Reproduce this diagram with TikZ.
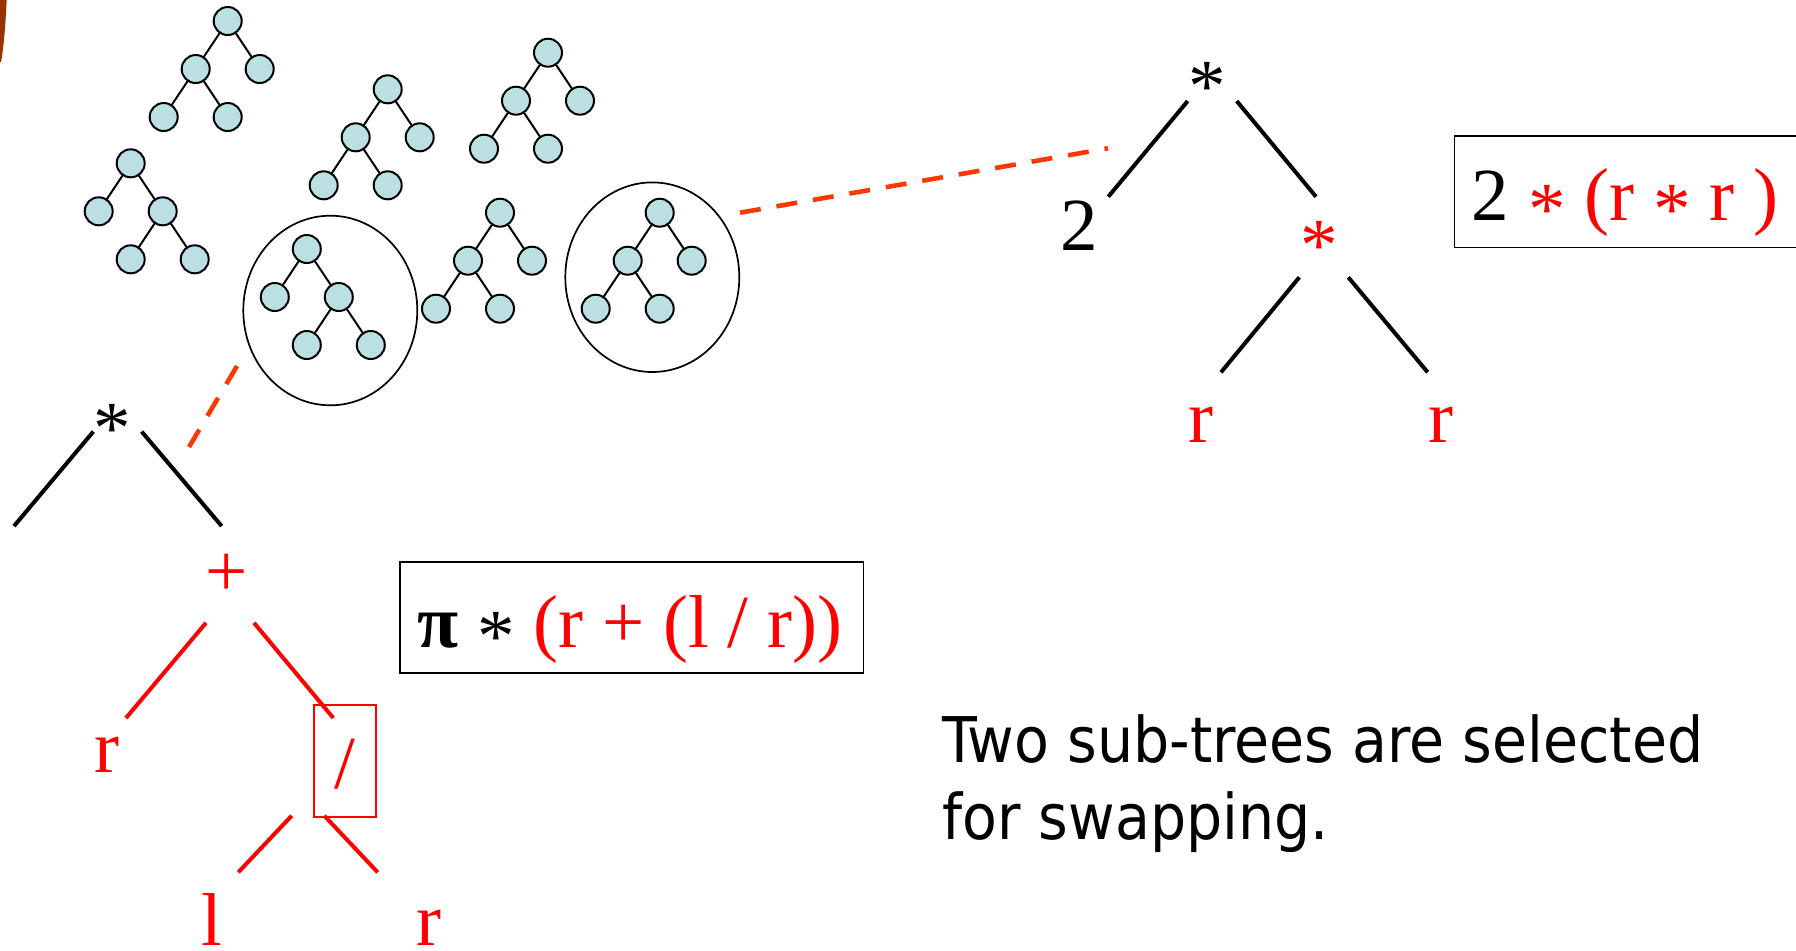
\documentclass[tikz,border=0pt]{standalone}
\usepackage{fontspec}
\setmainfont{Liberation Serif}
\newfontfamily\capfont[FakeStretch=0.905]{DejaVu Sans}
\usetikzlibrary{shapes.geometric}
\definecolor{nodefill}{RGB}{187,224,227}
\definecolor{dashcol}{RGB}{255,55,0}
\definecolor{brownc}{RGB}{153,51,0}
\newcommand\lowast{\raisebox{-0.19em}{*}}
\tikzset{
  leaf/.style={circle, draw=black, fill=nodefill, line width=1pt, minimum size=14pt, inner sep=0pt},
  twig/.style={line width=1pt},
  treeA/.pic={
    \coordinate (-o) at (0,0);
    \draw[twig] (0,0) -- (-32,48) -- (-64,96) (-32,48) -- (0,96) (0,0) -- (32,48);
    \node[leaf] (-r) at (0,0) {};
    \node[leaf] (-a) at (-32,48) {};
    \node[leaf] (-b) at (32,48) {};
    \node[leaf] (-c) at (-64,96) {};
    \node[leaf] (-d) at (0,96) {};
  },
  treeB/.pic={
    \coordinate (-o) at (0,0);
    \draw[twig] (0,0) -- (32,48) -- (64,96) (32,48) -- (0,96) (0,0) -- (-32,48);
    \node[leaf] (-r) at (0,0) {};
    \node[leaf] (-a) at (-32,48) {};
    \node[leaf] (-b) at (32,48) {};
    \node[leaf] (-c) at (0,96) {};
    \node[leaf] (-d) at (64,96) {};
  },
  lbl/.style={inner sep=0pt, anchor=base, font=\fontsize{37.5}{45}\selectfont},
  branch/.style={line width=2pt},
  swapline/.style={draw=dashcol, line width=2.3pt, dash pattern=on 10.5pt off 8pt},
  ring/.style={draw, ellipse, line width=0.85pt, inner sep=0pt},
  framebox/.style={draw, line width=0.8pt, inner sep=0pt},
  capstyle/.style={inner sep=0pt, anchor=base west, font=\capfont\fontsize{31.5}{38}\selectfont},
}
\begin{document}
\begin{tikzpicture}[x=0.5pt,y=-0.5pt]
\useasboundingbox (0,0) rectangle (1796,950);
\fill[white] (0,0) rectangle (1796,950);

% brown corner stroke
\fill[brownc] (0,0) -- (6.7,0) .. controls (5.5,25) and (3.5,50) .. (1,62) -- (0,62) -- cycle;

% population of small trees
\pic (t1) at (227.7,21) {treeA};
\pic (t2) at (387.7,89.3) {treeA};
\pic (t3) at (130.7,163.3) {treeB};
\pic (t4) at (548,52.7) {treeA};
\pic (t5) at (306.8,249) {treeB};
\pic (t6) at (500,212.7) {treeA};
\pic (t7) at (659.7,212.7) {treeA};

% selection ellipses
\node[ring, minimum width=87pt, minimum height=94.8pt] (e1) at (330.3,310.5) {};
\node[ring, minimum width=87pt, minimum height=94.8pt] (e2) at (652.3,277.2) {};

% dashed connectors
\coordinate (s1a) at (237,366);
\coordinate (s1b) at (189,447);
\draw[swapline] (s1a) -- (s1b);
\coordinate (s2a) at (740,212.7);
\coordinate (s2b) at (1108,148.3);
\draw[swapline] (s2a) -- (s2b);

% right parent tree
\node[lbl] (rt) at (1207,111.4) {*};
\node[lbl] (r2) at (1078.9,250.7) {2};
\node[lbl, text=red] (rs) at (1319,270.7) {*};
\node[lbl, text=red] (rr1) at (1200.5,442.3) {r};
\node[lbl, text=red] (rr2) at (1440.8,442.3) {r};
\coordinate (ra1) at (1187.7,101);   \coordinate (ra2) at (1108.3,196.7);
\coordinate (rb1) at (1236.7,101);   \coordinate (rb2) at (1316,196.7);
\coordinate (rc1) at (1299.3,277.3); \coordinate (rc2) at (1221,372.3);
\coordinate (rd1) at (1348.3,277.3); \coordinate (rd2) at (1427.7,372.3);
\draw[branch] (ra1) -- (ra2);
\draw[branch] (rb1) -- (rb2);
\draw[branch] (rc1) -- (rc2);
\draw[branch] (rd1) -- (rd2);

% right formula box
\node[framebox, minimum width=172.9pt, minimum height=55.65pt] (bx2) at (1627.2,191.65) {};
\node[lbl] (f2) at (1625,220) {2 \textcolor{red}{\lowast{} (r \lowast{} r )}};

% left parent tree
\node[lbl] (lt) at (112.7,453.2) {*};
\node[lbl, text=red] (lp) at (226.8,596) {+};
\node[lbl, text=red] (lr) at (106.7,772.7) {r};
\node[lbl, text=red] (ld) at (345.3,788) {/};
\node[lbl, text=red] (ll) at (211.7,945.5) {l};
\node[lbl, text=red] (lr2) at (429.2,945.5) {r};
\node[draw=red, line width=0.85pt, inner sep=0pt, minimum width=31pt, minimum height=55.85pt] (selbox) at (345.3,761.15) {};
\coordinate (la1) at (93.3,431.6);  \coordinate (la2) at (14,526.1);
\coordinate (lb1) at (141.7,431.6); \coordinate (lb2) at (221.7,526.1);
\coordinate (lc1) at (206,622.8);   \coordinate (lc2) at (126,718);
\coordinate (ld1) at (254,622.8);   \coordinate (ld2) at (333.3,718);
\coordinate (le1) at (291.7,815.7); \coordinate (le2) at (238.3,872.3);
\coordinate (lf1) at (324.3,815.7); \coordinate (lf2) at (377.7,872.3);
\draw[branch] (la1) -- (la2);
\draw[branch] (lb1) -- (lb2);
\draw[branch, red] (lc1) -- (lc2);
\draw[branch, red] (ld1) -- (ld2);
\draw[branch, red] (le1) -- (le2);
\draw[branch, red] (lf1) -- (lf2);

% left formula box
\node[framebox, minimum width=231.65pt, minimum height=55.5pt] (bx1) at (631.65,617.2) {};
\node[lbl] (f1) at (630,647) {{\bfseries π} \lowast{} \textcolor{red}{(r + (l / r))}};

% caption
\node[capstyle] (cap1) at (942,762.2) {Two sub-trees are selected};
\node[capstyle] (cap2) at (942,839) {for swapping.};
\end{tikzpicture}
\end{document}
